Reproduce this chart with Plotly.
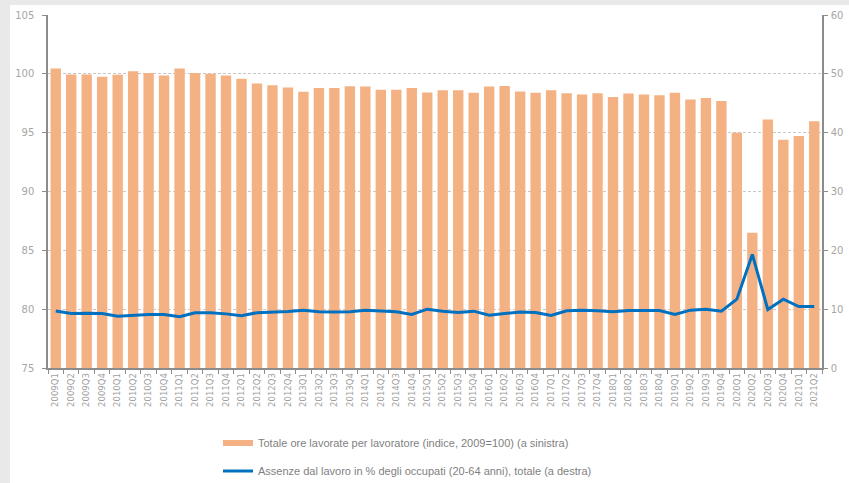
import plotly.graph_objects as go

quarters = [
    "2009Q1", "2009Q2", "2009Q3", "2009Q4",
    "2010Q1", "2010Q2", "2010Q3", "2010Q4",
    "2011Q1", "2011Q2", "2011Q3", "2011Q4",
    "2012Q1", "2012Q2", "2012Q3", "2012Q4",
    "2013Q1", "2013Q2", "2013Q3", "2013Q4",
    "2014Q1", "2014Q2", "2014Q3", "2014Q4",
    "2015Q1", "2015Q2", "2015Q3", "2015Q4",
    "2016Q1", "2016Q2", "2016Q3", "2016Q4",
    "2017Q1", "2017Q2", "2017Q3", "2017Q4",
    "2018Q1", "2018Q2", "2018Q3", "2018Q4",
    "2019Q1", "2019Q2", "2019Q3", "2019Q4",
    "2020Q1", "2020Q2", "2020Q3", "2020Q4",
    "2021Q1", "2021Q2",
]

ore_lavorate = [
    100.45, 99.95, 99.95, 99.75,
    99.92, 100.22, 100.08, 99.86,
    100.45, 100.08, 100.0, 99.86,
    99.58, 99.17, 99.03, 98.83,
    98.47, 98.80, 98.80, 98.95,
    98.92, 98.64, 98.64, 98.80,
    98.42, 98.61, 98.61, 98.39,
    98.92, 98.97, 98.50, 98.39,
    98.61, 98.36, 98.25, 98.36,
    98.03, 98.33, 98.25, 98.19,
    98.39, 97.81, 97.94, 97.69,
    95.0, 86.5, 96.11, 94.39,
    94.72, 95.97,
]

assenze = [
    9.7, 9.25, 9.3, 9.25,
    8.8, 9.0, 9.1, 9.1,
    8.7, 9.4, 9.4, 9.2,
    8.9, 9.4, 9.45, 9.6,
    9.8, 9.55, 9.5, 9.55,
    9.8, 9.7, 9.55, 9.1,
    10.0, 9.66, 9.44, 9.66,
    8.98, 9.27, 9.5, 9.44,
    8.92, 9.72, 9.83, 9.72,
    9.55, 9.77, 9.77, 9.77,
    9.1, 9.83, 10.0, 9.66,
    11.7, 19.3, 9.94, 11.7,
    10.45, 10.45,
]

name_bar = "Totale ore lavorate per lavoratore (indice, 2009=100) (a sinistra)"
name_line = "Assenze dal lavoro in % degli occupati (20-64 anni), totale (a destra)"

ORANGE = "#F4B183"
BLUE = "#0070C0"
AXIS = "#8c8c8c"
FRAME = "#e9e9e9"
TICKFONT = dict(family="DejaVu Sans", size=10, color="#a6a6a6")
LEGFONT = dict(family="Liberation Sans", size=11, color="#7f7f7f")

fig = go.Figure()
fig.add_trace(go.Bar(
    x=quarters, y=ore_lavorate, marker=dict(color=ORANGE, line=dict(width=0)),
    name=name_bar, showlegend=False, yaxis="y",
))
fig.add_trace(go.Scatter(
    x=quarters, y=assenze, mode="lines", line=dict(color=BLUE, width=3),
    name=name_line, yaxis="y2", legend="legend2",
))
# legend entry for the bars (drawn as a flat patch like the original)
fig.add_trace(go.Scatter(
    x=[None], y=[None], mode="lines", line=dict(color=ORANGE, width=6),
    name=name_bar, yaxis="y", legend="legend",
))

FW, FH = 849, 483
L, R, T, B = 48, 822, 15, 368

fig.update_layout(
    width=FW, height=FH, autosize=False,
    margin=dict(l=L, r=FW - R, t=T, b=FH - B, pad=0, autoexpand=False),
    paper_bgcolor="white", plot_bgcolor="white",
    bargap=0.33,
    shapes=[
        # light grey frame strips (left and top) of the original screenshot
        dict(type="rect", xref="paper", yref="paper",
             x0=-1, x1=(10 - L) / (R - L), y0=-1, y1=2,
             fillcolor=FRAME, line=dict(width=0), layer="below"),
        dict(type="rect", xref="paper", yref="paper",
             x0=-1, x1=2, y0=(B - 5) / (B - T), y1=2,
             fillcolor=FRAME, line=dict(width=0), layer="below"),
    ],
    xaxis=dict(
        type="category", tickangle=-90, tickfont=dict(family="DejaVu Sans", size=8.5, color="#a0a0a0"),
        showline=True, linecolor=AXIS, linewidth=1.5, ticks="outside", ticklen=4,
        tickcolor=AXIS, tickson="boundaries", showgrid=False, automargin=False,
    ),
    yaxis=dict(
        range=[75, 105], dtick=5, tick0=75, showgrid=True, gridcolor="#c8c8c8",
        griddash="3px,2px", gridwidth=1, showline=True, linecolor=AXIS, linewidth=1.5,
        ticks="outside", ticklen=4, tickcolor=AXIS, tickfont=TICKFONT,
        ticklabelstandoff=6, zeroline=False, automargin=False,
    ),
    yaxis2=dict(
        range=[0, 60], dtick=10, overlaying="y", side="right", showgrid=False,
        showline=True, linecolor=AXIS, linewidth=1.5, ticks="outside", ticklen=4,
        tickcolor=AXIS, tickfont=TICKFONT, ticklabelstandoff=1, zeroline=False,
        automargin=False,
    ),
    legend=dict(
        xref="container", yref="container",
        x=218 / FW, xanchor="left", y=1 - 443 / FH, yanchor="middle",
        bgcolor="rgba(0,0,0,0)", font=LEGFONT,
    ),
    legend2=dict(
        xref="container", yref="container",
        x=218 / FW, xanchor="left", y=1 - 471 / FH, yanchor="middle",
        bgcolor="rgba(0,0,0,0)", font=LEGFONT,
    ),
)

fig.write_html(
    "out.html",
    config={"displayModeBar": False},
    post_script="document.body.style.margin='0px'; document.body.style.overflow='hidden';",
)
